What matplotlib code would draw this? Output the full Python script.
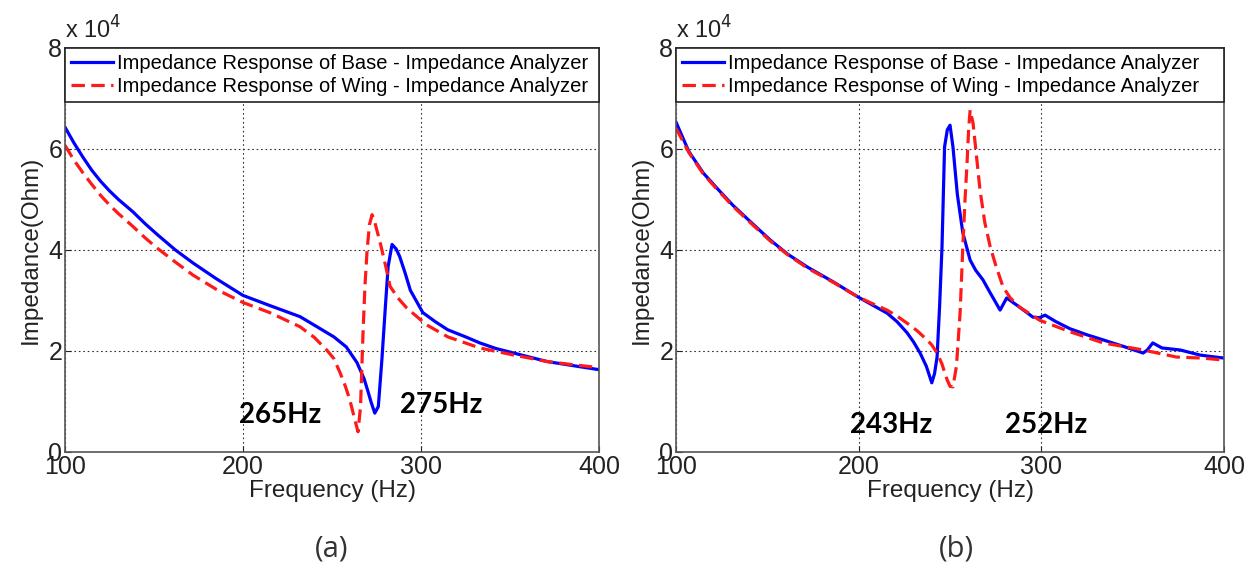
import matplotlib.pyplot as plt

plt.rcParams['font.family'] = ['Liberation Sans', 'DejaVu Sans']

# Impedance values in units of 10^4 Ohm
# (a) 左图
freq_base_a = [100, 105, 110, 115, 120, 125, 130, 138, 145, 152, 162, 172, 185, 200, 215, 232, 242, 251, 258, 264,
               268, 270, 272, 274, 276, 278, 280, 281.5, 283.7, 286, 288, 291, 294, 301, 308, 315, 325, 333, 342,
               352, 362, 371, 380, 389, 400]
base_a = [6.43, 6.12, 5.84, 5.58, 5.36, 5.17, 5.00, 4.76, 4.52, 4.30, 4.00, 3.74, 3.43, 3.10, 2.90, 2.68, 2.47, 2.28,
          2.08, 1.77, 1.45, 1.22, 0.98, 0.77, 0.90, 1.83, 2.90, 3.67, 4.11, 4.02, 3.87, 3.55, 3.20, 2.76, 2.58, 2.42,
          2.28, 2.16, 2.05, 1.96, 1.87, 1.79, 1.74, 1.69, 1.63]

freq_wing_a = [100, 105, 110, 115, 120, 125, 130, 138, 145, 152, 162, 172, 185, 200, 215, 232, 240, 247, 251, 254.5,
               257.5, 260, 262.5, 264.6, 266, 267.4, 268.5, 269.7, 271, 272.5, 274, 277, 280, 282.6, 287, 292, 303,
               315, 333, 352, 371, 385, 400]
wing_a = [6.07, 5.78, 5.53, 5.30, 5.08, 4.89, 4.72, 4.47, 4.24, 4.03, 3.76, 3.50, 3.22, 2.96, 2.76, 2.48, 2.27, 2.02,
          1.85, 1.57, 1.30, 1.03, 0.68, 0.40, 0.90, 2.36, 3.30, 4.00, 4.50, 4.70, 4.55, 4.15, 3.70, 3.28, 3.05, 2.85,
          2.52, 2.28, 2.06, 1.92, 1.79, 1.73, 1.67]

# (b) 右图
freq_base_b = [100, 107, 115, 123, 131, 141, 151.5, 161, 172, 186, 199.6, 208, 215.5, 221, 226.5, 230, 233.6, 237,
               240, 241.5, 242.9, 244.3, 245.6, 247, 248.5, 250, 251.6, 254, 257, 261, 264, 268, 272, 277.4, 281,
               288, 295.4, 299, 302, 308, 315.7, 325, 333.8, 345, 355.7, 358, 361, 366, 376, 386.8, 393, 400]
base_b = [6.53, 5.95, 5.52, 5.20, 4.89, 4.55, 4.20, 3.92, 3.66, 3.37, 3.07, 2.90, 2.75, 2.58, 2.36, 2.18, 1.96, 1.70,
          1.37, 1.55, 1.88, 2.90, 4.06, 6.04, 6.38, 6.47, 6.04, 5.10, 4.34, 3.80, 3.60, 3.41, 3.15, 2.81, 3.05, 2.87,
          2.67, 2.66, 2.71, 2.58, 2.44, 2.32, 2.22, 2.09, 1.96, 2.02, 2.16, 2.06, 2.02, 1.92, 1.89, 1.86]

freq_wing_b = [100, 107, 115, 123, 131, 141, 151.5, 161, 172, 186, 199.6, 208, 215.5, 221, 226.5, 232, 237.4, 240,
               242.9, 245.5, 248.4, 250, 251.6, 253.5, 255.5, 257, 258.2, 259.3, 260.2, 261, 262.6, 264.5, 266.4,
               269, 272, 275, 279, 283, 288, 299, 315.7, 333.8, 355.7, 374, 388, 400]
wing_b = [6.41, 5.93, 5.50, 5.18, 4.87, 4.53, 4.18, 3.91, 3.64, 3.36, 3.07, 2.93, 2.81, 2.69, 2.55, 2.40, 2.22, 2.12,
          1.96, 1.75, 1.43, 1.30, 1.29, 1.70, 2.75, 4.06, 5.00, 5.72, 6.40, 6.77, 6.51, 5.85, 5.19, 4.55, 4.06, 3.70,
          3.27, 3.05, 2.87, 2.61, 2.38, 2.16, 2.02, 1.88, 1.86, 1.82]

labels = ['Impedance Response of Base - Impedance Analyzer',
          'Impedance Response of Wing - Impedance Analyzer']
panels = [
    (freq_base_a, base_a, freq_wing_a, wing_a, [(198, 0.73, '265Hz'), (288, 0.93, '275Hz')], '(a)'),
    (freq_base_b, base_b, freq_wing_b, wing_b, [(195, 0.53, '243Hz'), (280, 0.53, '252Hz')], '(b)'),
]
positions = [[0.0517, 0.218, 0.4245, 0.699], [0.5374, 0.218, 0.4356, 0.699]]
caption_x = [0.264, 0.760]

fig = plt.figure(figsize=(12.58, 5.78), dpi=100)

for (fb, zb, fw, zw, notes, cap), pos, cx in zip(panels, positions, caption_x):
    ax = fig.add_axes(pos)
    ax.plot(fb, zb, color='#0000ff', lw=2.3, label=labels[0])
    ax.plot(fw, zw, color='#ff1a1a', lw=2.3, ls=(0, (4.2, 2.0)), label=labels[1])
    ax.set_xlim(100, 400)
    ax.set_ylim(0, 8)
    ax.set_xticks([100, 200, 300, 400])
    ax.set_yticks([0, 2, 4, 6, 8])
    ax.tick_params(direction='in', labelsize=18, length=4, colors='#222222', pad=2)
    ax.grid(True, color='#333333', ls=(0, (1.5, 2.5)), lw=0.8)
    for s in ax.spines.values():
        s.set_color('#555555')
        s.set_linewidth(1.2)
    ax.set_xlabel('Frequency (Hz)', fontsize=17.5, labelpad=1, color='#222222')
    ax.set_ylabel('Impedance(Ohm)', fontsize=17.5, labelpad=5, color='#222222')
    ax.text(0, 1.012, 'x 10$^4$', transform=ax.transAxes, fontsize=17, color='#222222', va='bottom')
    leg = ax.legend(loc='upper left', bbox_to_anchor=(0, 1, 1, 0), mode='expand', borderaxespad=0,
                    fontsize=14.5, handlelength=2.1, handletextpad=0.2, labelspacing=0.22,
                    fancybox=False, edgecolor='#222222', framealpha=1, borderpad=0.3)
    leg.get_frame().set_linewidth(1.2)
    for x, y, t in notes:
        ax.text(x, y, t, fontsize=20, fontweight='bold', family='Lato', va='center', ha='left')
    fig.text(cx, 0.05, cap, fontsize=21, ha='center', va='center', family='Open Sans', color='#333333')

plt.savefig('out.png', dpi=100)
